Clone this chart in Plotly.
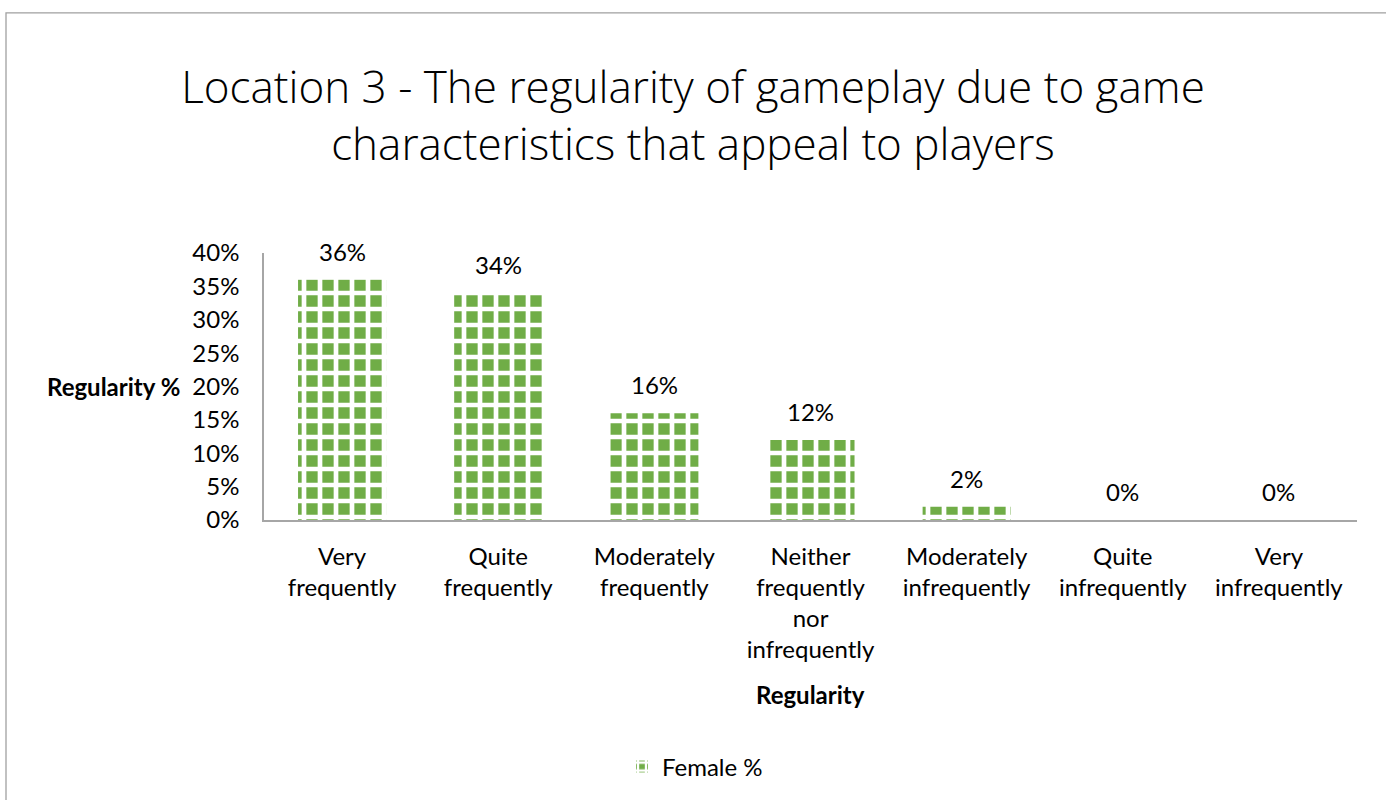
import plotly.graph_objects as go

# Survey responses: share of female players by gameplay regularity
categories = [
    "Very<br>frequently",
    "Quite<br>frequently",
    "Moderately<br>frequently",
    "Neither<br>frequently<br>nor<br>infrequently",
    "Moderately<br>infrequently",
    "Quite<br>infrequently",
    "Very<br>infrequently",
]
female_share = [0.36, 0.34, 0.16, 0.12, 0.02, 0.00, 0.00]
y_ticks = [0.00, 0.05, 0.10, 0.15, 0.20, 0.25, 0.30, 0.35, 0.40]

GREEN = "#70AD47"
AXIS_GREY = "#A6A6A6"
TEXT_FONT = "Lato, 'Open Sans', sans-serif"

W, H = 1386, 800
M_L, M_R, M_T, M_B = 264, 29, 253, 279

fig = go.Figure()

fig.add_trace(go.Bar(
    x=categories,
    y=female_share,
    name="Female %",
    marker=dict(
        color=GREEN,
        line=dict(width=0),
        pattern=dict(shape="+", fgcolor="white", bgcolor=GREEN,
                     size=16, solidity=0.5, fillmode="replace"),
    ),
    hoverinfo="skip",
))

# value labels above each bar
for cat, val in zip(categories, female_share):
    fig.add_annotation(
        x=cat, y=val, xref="x", yref="y",
        text=f"{val * 100:.0f}%",
        showarrow=False, yanchor="bottom", yshift=12,
        font=dict(family=TEXT_FONT, size=24, color="black"),
    )

# horizontal y-axis title to the left of the tick labels
fig.add_annotation(
    x=-0.075, y=0.5, xref="paper", yref="paper",
    text="<b>Regularity %</b>", showarrow=False,
    xanchor="right", yanchor="middle",
    font=dict(family=TEXT_FONT, size=24, color="black"),
)

# x-axis title below the category labels
fig.add_annotation(
    x=0.5, y=-0.652, xref="paper", yref="paper",
    text="<b>Regularity</b>", showarrow=False,
    xanchor="center", yanchor="middle",
    font=dict(family=TEXT_FONT, size=24, color="black"),
)

# outer chart border (top and left edges visible inside the page)
fig.add_shape(
    type="rect", xref="paper", yref="paper",
    x0=-(M_L - 6) / (W - M_L - M_R), x1=1.2,
    y0=-1.5, y1=(H - M_B - 12) / (H - M_T - M_B),
    line=dict(color="#A0A0A0", width=1.3),
    fillcolor="rgba(0,0,0,0)", layer="below",
)

fig.update_layout(
    width=W, height=H,
    margin=dict(l=M_L, r=M_R, t=M_T, b=M_B),
    paper_bgcolor="white", plot_bgcolor="white",
    title=dict(
        text="Location 3 - The regularity of gameplay due to game<br>characteristics that appeal to players",
        x=0.5, xref="container", xanchor="center",
        y=1 - 103 / H, yref="container", yanchor="top",
        font=dict(family="'Open Sans', sans-serif", size=44, color="black", weight=300),
    ),
    bargap=0.436,
    showlegend=True,
    legend=dict(
        orientation="h",
        x=(622 - M_L) / (W - M_L - M_R), xanchor="left",
        y=-(767 - (H - M_B)) / (H - M_T - M_B), yanchor="middle",
        font=dict(family=TEXT_FONT, size=24, color="black"),
        bgcolor="rgba(0,0,0,0)",
    ),
    font=dict(family=TEXT_FONT, size=24, color="black"),
)

fig.update_xaxes(
    showline=True, linecolor=AXIS_GREY, linewidth=1.5,
    showgrid=False, ticks="", zeroline=False,
    tickfont=dict(family=TEXT_FONT, size=24, color="black"),
    ticklabelstandoff=14,
    fixedrange=True,
)
fig.update_yaxes(
    range=[0, 0.40],
    tickvals=y_ticks, tickformat=".0%",
    showline=True, linecolor=AXIS_GREY, linewidth=1.5,
    showgrid=False, ticks="", zeroline=False,
    tickfont=dict(family=TEXT_FONT, size=24, color="black"),
    ticklabelstandoff=18,
    fixedrange=True,
)

fig.write_html("out.html")
